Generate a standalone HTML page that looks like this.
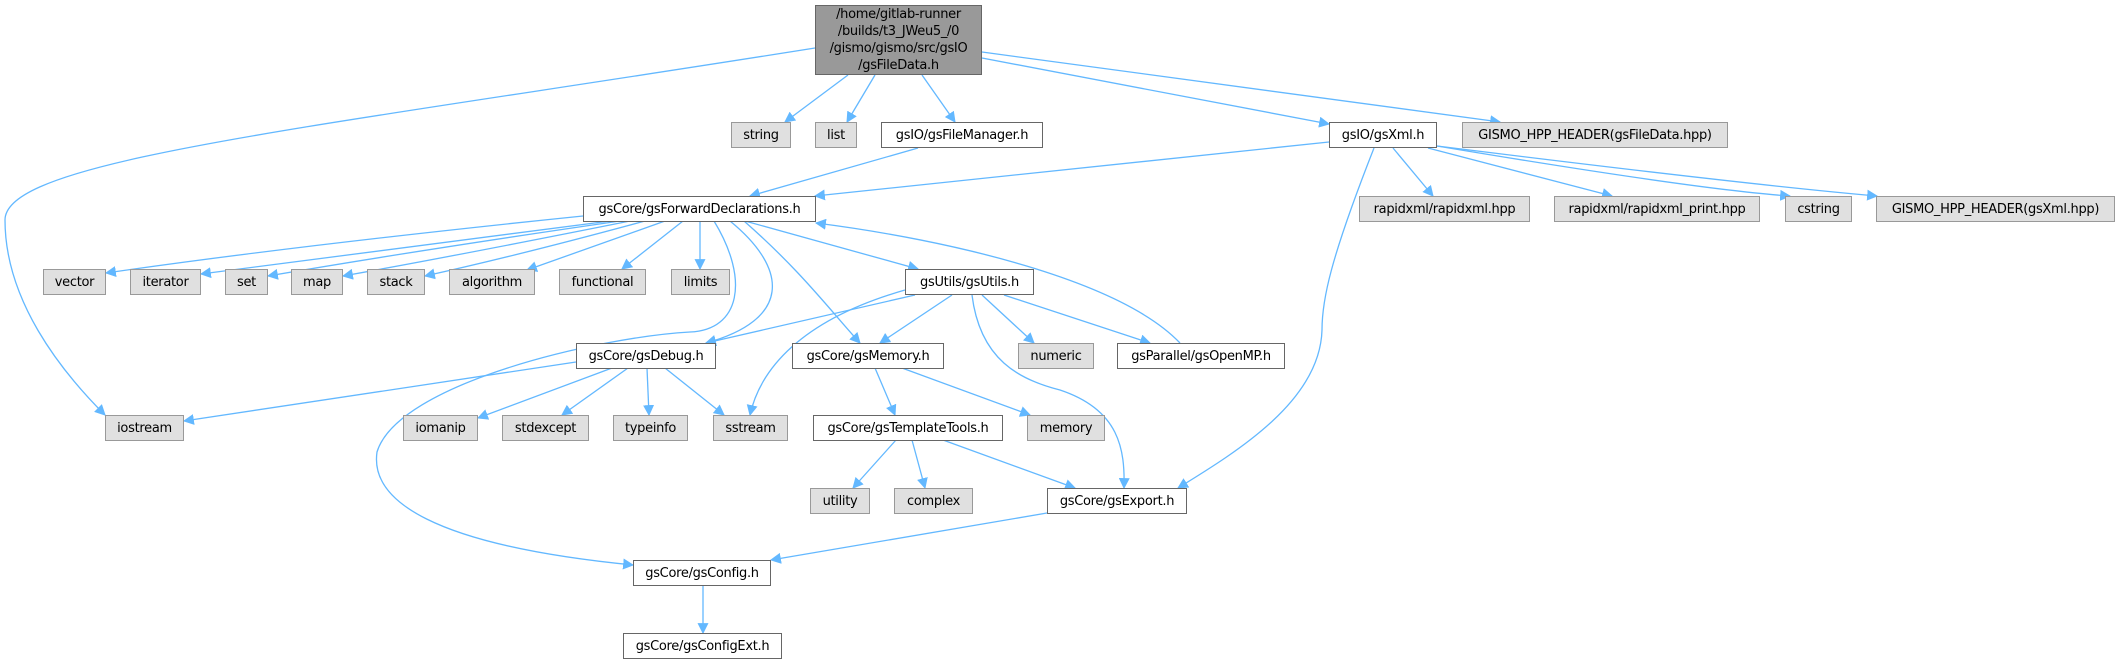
<!DOCTYPE html>
<html><head><meta charset="utf-8"><style>
body{margin:0;width:2122px;height:667px;background:#fff;position:relative;overflow:hidden;font-family:"DejaVu Sans","Liberation Sans",sans-serif;}
.n{position:absolute;box-sizing:border-box;border:1.5px solid #666;background:#fff;font-size:13px;color:#000;display:flex;align-items:center;justify-content:center;white-space:nowrap;letter-spacing:-0.3px}
.g{background:#e0e0e0;border-color:#999}
.r{background:#999;border-color:#666;line-height:17px;text-align:center;white-space:normal}
svg{position:absolute;left:0;top:0}
</style></head><body>
<svg width="2122" height="667">
<defs><marker id="a" viewBox="0 0 10 10" refX="9" refY="5" markerWidth="11" markerHeight="11" markerUnits="userSpaceOnUse" orient="auto"><path d="M0,0 L10,5 L0,10z" fill="#63b8ff"/></marker></defs>
<g fill="none" stroke="#63b8ff" stroke-width="1.3" marker-end="url(#a)">
<path d="M815,48 C300,130 5,160 5,220 C5,300 60,370 105,415"/>
<path d="M848,75 L785,122"/>
<path d="M875,75 L847,122"/>
<path d="M922,75 L955,122"/>
<path d="M982,58 L1329,124"/>
<path d="M982,52 L1500,122"/>
<path d="M918,148 L750,196"/>
<path d="M1329,142 L815,196"/>
<path d="M1393,148 L1433,196"/>
<path d="M1428,148 L1612,196"/>
<path d="M1437,146 Q1700,190 1790,196"/>
<path d="M1437,146 Q1750,185 1877,196"/>
<path d="M1374,148 C1330,260 1322,300 1322,330 C1320,400 1240,450 1178,488"/>
<path d="M583,216 Q300,245 106,273"/>
<path d="M610,221 Q380,250 201,274"/>
<path d="M620,221 Q420,250 268,276"/>
<path d="M630,221 Q460,255 343,276"/>
<path d="M645,221 Q520,255 425,276"/>
<path d="M665,221 L527,270"/>
<path d="M683,221 L622,269"/>
<path d="M700,221 L700,269"/>
<path d="M745,221 L918,269"/>
<path d="M714,221 C750,280 740,330 690,332 C600,337 398,383 377,452 C370,500 431,545 633,565"/>
<path d="M730,221 C790,270 790,320 706,343"/>
<path d="M744,221 C800,270 830,310 860,343"/>
<path d="M915,295 L706,343"/>
<path d="M905,290 C800,320 760,370 750,415"/>
<path d="M952,295 L880,343"/>
<path d="M982,295 L1034,343"/>
<path d="M1004,295 L1150,343"/>
<path d="M972,295 C980,360 1020,380 1060,390 C1120,410 1125,450 1124,488"/>
<path d="M1180,343 C1120,280 950,240 816,223"/>
<path d="M576,362 L184,421"/>
<path d="M612,368 L478,418"/>
<path d="M628,368 L562,415"/>
<path d="M647,368 L649,415"/>
<path d="M665,368 L724,415"/>
<path d="M875,368 L895,415"/>
<path d="M902,368 L1030,415"/>
<path d="M896,440 L853,488"/>
<path d="M912,440 L925,488"/>
<path d="M943,440 L1075,488"/>
<path d="M1047,513 L771,560"/>
<path d="M703,586 L703,633"/>
</g></svg>
<div class="n r" style="left:815px;top:5px;width:167px;height:70px">/home/gitlab-runner<br>/builds/t3_JWeu5_/0<br>/gismo/gismo/src/gsIO<br>/gsFileData.h</div>
<div class="n g" style="left:731px;top:122px;width:60px;height:26px">string</div>
<div class="n g" style="left:815px;top:122px;width:42px;height:26px">list</div>
<div class="n" style="left:881px;top:122px;width:162px;height:26px">gsIO/gsFileManager.h</div>
<div class="n" style="left:1329px;top:122px;width:108px;height:26px">gsIO/gsXml.h</div>
<div class="n g" style="left:1462px;top:122px;width:266px;height:26px">GISMO_HPP_HEADER(gsFileData.hpp)</div>
<div class="n" style="left:583px;top:196px;width:233px;height:26px">gsCore/gsForwardDeclarations.h</div>
<div class="n g" style="left:1359px;top:196px;width:171px;height:26px">rapidxml/rapidxml.hpp</div>
<div class="n g" style="left:1554px;top:196px;width:206px;height:26px">rapidxml/rapidxml_print.hpp</div>
<div class="n g" style="left:1785px;top:196px;width:67px;height:26px">cstring</div>
<div class="n g" style="left:1876px;top:196px;width:239px;height:26px">GISMO_HPP_HEADER(gsXml.hpp)</div>
<div class="n g" style="left:43px;top:269px;width:63px;height:26px">vector</div>
<div class="n g" style="left:130px;top:269px;width:71px;height:26px">iterator</div>
<div class="n g" style="left:225px;top:269px;width:43px;height:26px">set</div>
<div class="n g" style="left:291px;top:269px;width:52px;height:26px">map</div>
<div class="n g" style="left:367px;top:269px;width:58px;height:26px">stack</div>
<div class="n g" style="left:449px;top:269px;width:86px;height:26px">algorithm</div>
<div class="n g" style="left:559px;top:269px;width:87px;height:26px">functional</div>
<div class="n g" style="left:671px;top:269px;width:59px;height:26px">limits</div>
<div class="n" style="left:905px;top:269px;width:129px;height:26px">gsUtils/gsUtils.h</div>
<div class="n" style="left:576px;top:343px;width:140px;height:26px">gsCore/gsDebug.h</div>
<div class="n" style="left:792px;top:343px;width:152px;height:26px">gsCore/gsMemory.h</div>
<div class="n g" style="left:1018px;top:343px;width:76px;height:26px">numeric</div>
<div class="n" style="left:1117px;top:343px;width:168px;height:26px">gsParallel/gsOpenMP.h</div>
<div class="n g" style="left:105px;top:415px;width:79px;height:26px">iostream</div>
<div class="n g" style="left:403px;top:415px;width:75px;height:26px">iomanip</div>
<div class="n g" style="left:502px;top:415px;width:87px;height:26px">stdexcept</div>
<div class="n g" style="left:613px;top:415px;width:75px;height:26px">typeinfo</div>
<div class="n g" style="left:713px;top:415px;width:75px;height:26px">sstream</div>
<div class="n" style="left:813px;top:415px;width:190px;height:26px">gsCore/gsTemplateTools.h</div>
<div class="n g" style="left:1027px;top:415px;width:78px;height:26px">memory</div>
<div class="n g" style="left:810px;top:488px;width:60px;height:26px">utility</div>
<div class="n g" style="left:894px;top:488px;width:79px;height:26px">complex</div>
<div class="n" style="left:1047px;top:488px;width:140px;height:26px">gsCore/gsExport.h</div>
<div class="n" style="left:633px;top:560px;width:138px;height:26px">gsCore/gsConfig.h</div>
<div class="n" style="left:623px;top:633px;width:159px;height:26px">gsCore/gsConfigExt.h</div>
</body></html>
